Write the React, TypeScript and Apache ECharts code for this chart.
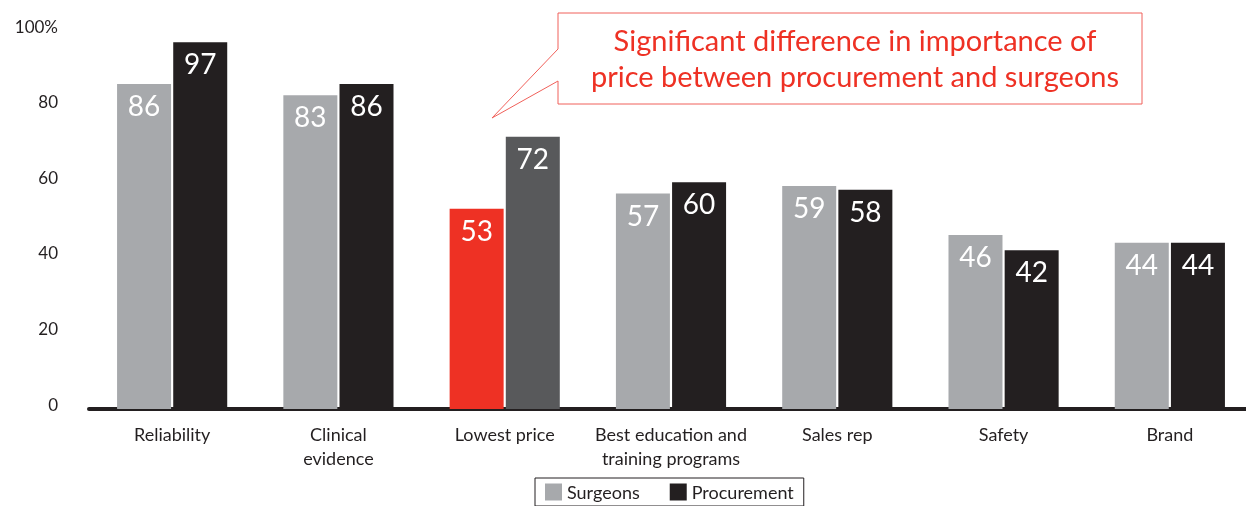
import React, { useEffect, useRef } from "react";
import * as echarts from "echarts";

const categories = [
  "Reliability",
  "Clinical\nevidence",
  "Lowest price",
  "Best education and\ntraining programs",
  "Sales rep",
  "Safety",
  "Brand",
];
const surgeons = [86, 83, 53, 57, 59, 46, 44];
const procurement = [97, 86, 72, 60, 58, 42, 44];
const yTicks = [0, 20, 40, 60, 80, 100];
const highlightIndex = 2;
const annotationLines = [
  "Significant difference in importance of",
  "price between procurement and surgeons",
];

const FONT = "Lato";
const GRAY = "#a7a9ac";
const BLACK = "#231f20";
const RED = "#ee3124";
const DARK = "#58595b";

export default function App() {
  const ref = useRef<HTMLDivElement>(null);
  useEffect(() => {
    const chart = echarts.init(ref.current!, null, { renderer: "svg" });
    const label = {
      show: true,
      position: "insideTop",
      distance: 7,
      color: "#ffffff",
      fontSize: 28,
      fontFamily: FONT,
    };
    chart.setOption({
      animation: false,
      textStyle: { fontFamily: FONT },
      grid: { left: 89, right: 0, top: 31, bottom: 97, containLabel: false },
      legend: {
        data: ["Surgeons", "Procurement"],
        left: 535,
        top: 478,
        icon: "rect",
        itemWidth: 17,
        itemHeight: 17,
        itemGap: 30,
        padding: [5, 10, 5, 10],
        borderColor: BLACK,
        borderWidth: 1,
        textStyle: { fontSize: 18, color: BLACK, fontFamily: FONT },
      },
      xAxis: {
        type: "category",
        data: categories,
        axisLine: { lineStyle: { color: BLACK, width: 4 } },
        axisTick: { show: false },
        axisLabel: {
          color: BLACK,
          fontSize: 18,
          lineHeight: 24,
          margin: 13,
          fontFamily: FONT,
          interval: 0,
        },
      },
      yAxis: {
        type: "value",
        min: 0,
        max: 100,
        interval: 20,
        splitLine: { show: false },
        axisLine: { show: false },
        axisTick: { show: false },
        axisLabel: {
          color: BLACK,
          fontSize: 17,
          margin: 31,
          fontFamily: FONT,
          verticalAlign: "bottom",
          lineHeight: 10,
          formatter: (v: number) => (v === 100 ? "100%" : yTicks.includes(v) ? String(v) : ""),
        },
      },
      series: [
        {
          name: "Surgeons",
          type: "bar",
          barWidth: 54,
          barGap: "4%",
          itemStyle: { color: GRAY },
          label,
          data: surgeons.map((v, i) =>
            i === highlightIndex ? { value: v, itemStyle: { color: RED } } : v
          ),
        },
        {
          name: "Procurement",
          type: "bar",
          barWidth: 54,
          barGap: "4%",
          itemStyle: { color: BLACK },
          label,
          data: procurement.map((v, i) =>
            i === highlightIndex ? { value: v, itemStyle: { color: DARK } } : v
          ),
        },
      ],
      graphic: [
        {
          type: "polygon",
          shape: {
            points: [
              [558, 49],
              [558, 13],
              [1142, 13],
              [1142, 104],
              [558, 104],
              [558, 81],
              [492, 118],
            ],
          },
          style: { fill: "#ffffff", stroke: "#f0605a", lineWidth: 1 },
          z: 100,
        },
        {
          type: "text",
          x: 855,
          y: 57,
          z: 101,
          style: {
            text: annotationLines.join("\n"),
            fill: RED,
            font: `29px ${FONT}`,
            lineHeight: 36,
            align: "center",
            verticalAlign: "middle",
          },
        },
      ],
    });
    return () => chart.dispose();
  }, []);
  return (
    <div
      ref={ref}
      style={{ position: "fixed", left: 0, top: 0, width: 1253, height: 506 }}
    />
  );
}
